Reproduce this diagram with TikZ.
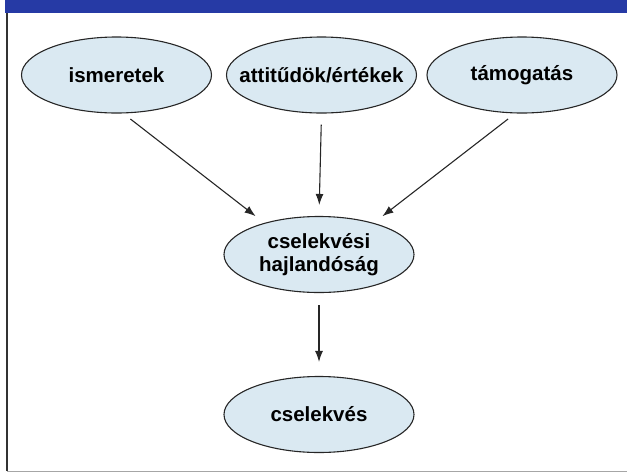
\documentclass[tikz,border=0pt]{standalone}
\usepackage{fontspec}
\setmainfont{Liberation Sans}
\usepackage{tikz}
\usetikzlibrary{positioning,shapes,arrows.meta}
\definecolor{ellfill}{RGB}{218,233,242}
\definecolor{barblue}{RGB}{38,58,165}

\begin{document}
\begin{tikzpicture}[x=1pt,y=-1pt]
      \tikzstyle{ell} = [ellipse, draw=black!85, line width=1.1pt,
      fill=ellfill, minimum width=190pt, minimum height=76pt, inner
      xsep=-15pt, inner ysep=0pt, align=center,
      font=\fontsize{20.5}{22.5}\selectfont\bfseries]
      \tikzstyle{arr} = [>={Latex[length=11pt,width=8pt]}, ->, line
      width=1.1pt, black!85]
      \useasboundingbox (0,0) rectangle (627,472);
      \fill[barblue] (5,0) rectangle (627,13);
      \draw[black!80, line width=1.4pt] (7,13) -- (7,471);
      \draw[black!35, line width=1pt] (7,471) -- (627,471);
      \node[ell] (ism) at (116.5,75) {ismeretek};
      \node[ell] (att) at (321.5,75) {attitűdök/értékek};
      \node[ell] (tam) at (522,75) {támogatás};
      \node[ell] (hajl) at (319,254.5) {cselekvési\\hajlandóság};
      \node[ell] (cse) at (319,414.5) {cselekvés};
      \draw[arr, shorten <=9pt, shorten >=11pt] (ism.-80) -- (hajl.150);
      \draw[arr, shorten <=11pt, shorten >=11pt] (att.south) -- (hajl.north);
      \draw[arr, shorten <=9pt, shorten >=11pt] (tam.-100) -- (hajl.30);
      \draw[arr, shorten <=12pt, shorten >=14pt] (hajl.south) -- (cse.north);
    \end{tikzpicture}
\end{document}
